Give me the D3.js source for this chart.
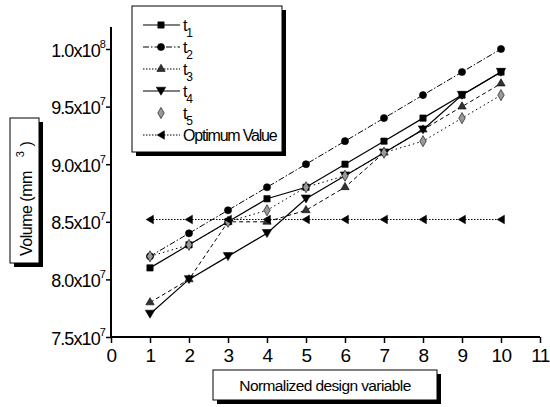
<!DOCTYPE html>
<html>
<head>
<meta charset="utf-8">
<script src="https://cdn.jsdelivr.net/npm/d3@7"></script>
<style>
body { margin: 0; background: #fff; }
text { font-family: "Liberation Sans", Arial, sans-serif; fill: #000; }
</style>
</head>
<body>
<div id="chart"></div>
<script>
// data
const xs = [1, 2, 3, 4, 5, 6, 7, 8, 9, 10];
const t1 = [8.1e7, 8.3e7, 8.5e7, 8.7e7, 8.8e7, 9.0e7, 9.2e7, 9.4e7, 9.6e7, 9.8e7];
const t2 = [8.2e7, 8.4e7, 8.6e7, 8.8e7, 9.0e7, 9.2e7, 9.4e7, 9.6e7, 9.8e7, 1.0e8];
const t3 = [7.8e7, 8.0e7, 8.5e7, 8.5e7, 8.6e7, 8.8e7, 9.1e7, 9.3e7, 9.5e7, 9.7e7];
const t4 = [7.7e7, 8.0e7, 8.2e7, 8.4e7, 8.7e7, 8.9e7, 9.1e7, 9.3e7, 9.6e7, 9.8e7];
const t5 = [8.2e7, 8.3e7, 8.5e7, 8.6e7, 8.8e7, 8.9e7, 9.1e7, 9.2e7, 9.4e7, 9.6e7];
const optimum = [8.52e7, 8.52e7, 8.52e7, 8.52e7, 8.52e7, 8.52e7, 8.52e7, 8.52e7, 8.52e7, 8.52e7];
const xTicks = [0, 1, 2, 3, 4, 5, 6, 7, 8, 9, 10, 11];
const yTicks = [7.5e7, 8.0e7, 8.5e7, 9.0e7, 9.5e7, 1.0e8];
const yTickLabels = [["7.5x10", "7"], ["8.0x10", "7"], ["8.5x10", "7"], ["9.0x10", "7"], ["9.5x10", "7"], ["1.0x10", "8"]];

const W = 550, H = 407;
const svg = d3.select("#chart").append("svg").attr("width", W).attr("height", H);

const x = d3.scaleLinear().domain([0, 11]).range([111, 540]);
const y = d3.scaleLinear().domain([7.5e7, 1.0e8]).range([337, 49]);

// custom triangle shapes
const triDown = {draw(ctx, size) {
  const r = Math.sqrt(size) / 1.6;
  ctx.moveTo(-r, -r * 0.8); ctx.lineTo(r, -r * 0.8); ctx.lineTo(0, r * 0.9); ctx.closePath();
}};
const triLeft = {draw(ctx, size) {
  const r = Math.sqrt(size) / 1.6;
  ctx.moveTo(r * 0.8, -r); ctx.lineTo(r * 0.8, r); ctx.lineTo(-r * 0.9, 0); ctx.closePath();
}};

const series = [
  {name: "1", values: t1, dash: null, shape: d3.symbolSquare, size: 40, fill: "#000", lw: 1.2},
  {name: "2", values: t2, dash: "6,2,1.5,2", shape: d3.symbolCircle, size: 40, fill: "#000", lw: 1},
  {name: "3", values: t3, dash: "4,3", shape: d3.symbolTriangle, size: 30, fill: "#333", lw: 1, legDash: "1.5,1.5"},
  {name: "4", values: t4, dash: null, shape: triDown, size: 56, fill: "#000", lw: 1.2},
  {name: "5", values: t5, dash: "1.5,3", shape: d3.symbolDiamond, size: 36, fill: "#999", lw: 1, noLegendLine: true},
  {name: "Optimum Value", values: optimum, dash: "1.5,1.5", shape: triLeft, size: 46, fill: "#000", lw: 1}
];

const line = d3.line().x((d, i) => x(xs[i])).y(d => y(d));

series.forEach(s => {
  svg.append("path").datum(s.values)
    .attr("d", line).attr("fill", "none")
    .attr("stroke", "#000").attr("stroke-width", s.lw)
    .attr("stroke-dasharray", s.dash);
});
series.forEach(s => {
  svg.append("g").selectAll("path").data(s.values).join("path")
    .attr("transform", (d, i) => `translate(${x(xs[i])},${y(d)})`)
    .attr("d", d3.symbol().type(s.shape).size(s.size))
    .attr("fill", s.fill).attr("stroke", "#000").attr("stroke-width", 0.6);
});

// axes
const gx = svg.append("g").attr("transform", "translate(0,337)")
  .call(d3.axisBottom(x).tickValues(xTicks).tickSize(6).tickFormat(""));
gx.select(".domain").attr("d", "M111,0H540").attr("stroke-width", 2);
gx.selectAll(".tick line").attr("stroke-width", 1.5);
gx.selectAll(".tick").append("text")
  .attr("y", 25).attr("text-anchor", "middle")
  .style("font-size", "19px").style("letter-spacing", "-0.5px")
  .text(d => d);

const gy = svg.append("g").attr("transform", "translate(111,0)")
  .call(d3.axisLeft(y).tickValues(yTicks).tickSize(5).tickFormat(""));
gy.select(".domain").attr("d", "M0,27V337").attr("stroke-width", 2);
gy.selectAll(".tick line").attr("stroke-width", 1.5);
const yl = gy.selectAll(".tick").append("text")
  .attr("x", -6).attr("y", 7).attr("text-anchor", "end")
  .style("font-size", "18px").style("letter-spacing", "-0.9px");
yl.append("tspan").text((d, i) => yTickLabels[i][0]);
yl.append("tspan").attr("dy", -9).style("font-size", "11px").text((d, i) => yTickLabels[i][1]);

// boxed labels with drop shadow
function box(x0, y0, w, h) {
  svg.append("rect").attr("x", x0 + 4).attr("y", y0 + 4).attr("width", w).attr("height", h).attr("fill", "#000");
  svg.append("rect").attr("x", x0).attr("y", y0).attr("width", w).attr("height", h)
    .attr("fill", "#fff").attr("stroke", "#000").attr("stroke-width", 1);
}

// legend
box(132, 6, 150, 146);
series.forEach((s, i) => {
  const ly = 25 + i * 22;
  if (!s.noLegendLine) {
    svg.append("line").attr("x1", 143).attr("x2", 180).attr("y1", ly).attr("y2", ly)
      .attr("stroke", "#000").attr("stroke-width", s.lw).attr("stroke-dasharray", s.legDash || s.dash);
  }
  svg.append("path").attr("transform", `translate(161,${ly})`)
    .attr("d", d3.symbol().type(s.shape).size(s.size))
    .attr("fill", s.fill).attr("stroke", "#000").attr("stroke-width", 0.6);
  const t = svg.append("text").attr("x", 183).attr("y", ly + 6)
    .style("font-size", "16px").style("letter-spacing", "-1.2px");
  if (s.name.length === 1) {
    t.append("tspan").text("t");
    t.append("tspan").attr("dy", 6).style("font-size", "12px").text(s.name);
  } else {
    t.text(s.name);
  }
});

// y label
box(10, 118, 29, 145);
const ylab = svg.append("text").attr("transform", "translate(32,256) rotate(-90)")
  .attr("text-anchor", "start").style("font-size", "16px").style("letter-spacing", "-0.5px");
ylab.append("tspan").text("Volume (mm");
ylab.append("tspan").attr("dx", 14).attr("dy", -8).style("font-size", "11px").text("3");
ylab.append("tspan").attr("dx", 5).attr("dy", 8).text(")");

// x label
box(213, 370, 224, 30);
svg.append("text").attr("x", 325).attr("y", 391).attr("text-anchor", "middle")
  .style("font-size", "15.5px").style("letter-spacing", "-0.6px")
  .text("Normalized design variable");
</script>
</body>
</html>
